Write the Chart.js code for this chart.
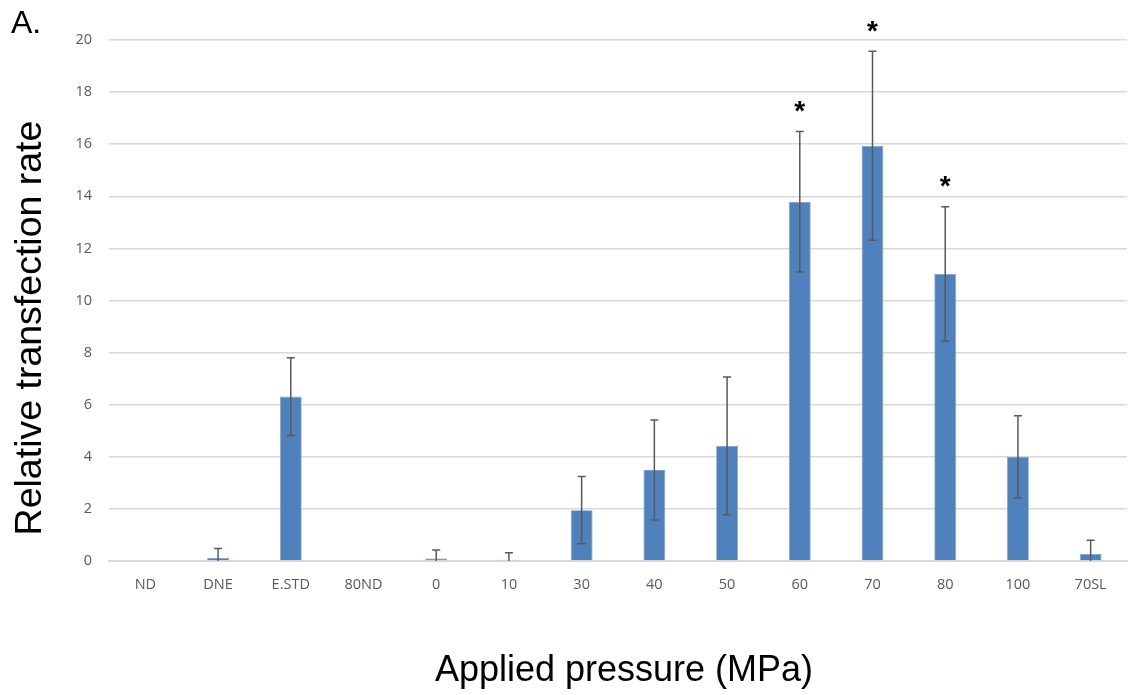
<!DOCTYPE html>
<html>
<head>
<meta charset="utf-8">
<script src="https://cdn.jsdelivr.net/npm/chart.js@4/dist/chart.umd.min.js"></script>
<style>
	html, body { margin: 0; padding: 0; background: #fff; }
	#wrap { width: 1136px; height: 695px; position: relative; }
</style>
</head>
<body>
<div id="wrap"><canvas id="myChart"></canvas></div>
<script>
// datos
var categorias = ["ND", "DNE", "E.STD", "80ND", "0", "10", "30", "40", "50", "60", "70", "80", "100", "70SL"];
var medias = [0, 0.12, 6.31, 0, 0.1, 0.05, 1.95, 3.49, 4.42, 13.79, 15.94, 11.02, 4.0, 0.27];
var desviacion = [null, 0.36, 1.49, null, 0.32, 0.27, 1.29, 1.92, 2.64, 2.7, 3.63, 2.58, 1.58, 0.53];
var significativo = [false, false, false, false, false, false, false, false, false, true, true, true, false, false];
var ticksY = [0, 2, 4, 6, 8, 10, 12, 14, 16, 18, 20];
var tituloX = 'Applied pressure (MPa)';
var tituloY = 'Relative transfection rate';

var gris = '#595959';

// barras de error, asteriscos y titulos
var errorBars = {
	id : 'errorBars',
	afterDatasetsDraw : function(chart) {
		var ctx = chart.ctx;
		var meta = chart.getDatasetMeta(0);
		var y = chart.scales.y;
		var area = chart.chartArea;
		ctx.save();
		ctx.beginPath();
		ctx.rect(area.left, area.top - 30, area.right - area.left, area.bottom - area.top + 30);
		ctx.clip();
		ctx.strokeStyle = gris;
		ctx.lineWidth = 1.5;
		for (var i = 0; i < medias.length; i++) {
			if (desviacion[i] == null) continue;
			var x = meta.data[i].x;
			var top = y.getPixelForValue(medias[i] + desviacion[i]);
			var bot = y.getPixelForValue(medias[i] - desviacion[i]);
			ctx.beginPath();
			ctx.moveTo(x, top); ctx.lineTo(x, bot);
			ctx.moveTo(x - 4, top); ctx.lineTo(x + 4, top);
			ctx.moveTo(x - 4, bot); ctx.lineTo(x + 4, bot);
			ctx.stroke();
		}
		ctx.restore();

		ctx.save();
		ctx.fillStyle = '#000';
		ctx.font = 'bold 28px "Liberation Sans", Arial, sans-serif';
		ctx.textAlign = 'center';
		ctx.textBaseline = 'middle';
		for (var i = 0; i < medias.length; i++) {
			if (!significativo[i]) continue;
			var x = meta.data[i].x;
			var top = y.getPixelForValue(medias[i] + desviacion[i]);
			ctx.fillText('*', x, top - 19);
		}
		// etiqueta del panel
		ctx.font = '32px "Liberation Sans", Arial, sans-serif';
		ctx.textAlign = 'left';
		ctx.textBaseline = 'alphabetic';
		ctx.fillText('A.', 11, 33);

		// titulos de ejes
		ctx.font = '36px "Liberation Sans", Arial, sans-serif';
		ctx.textAlign = 'center';
		ctx.fillText(tituloX, 624, 681);
		ctx.translate(41, 328);
		ctx.rotate(-Math.PI / 2);
		ctx.font = '37.5px "Liberation Sans", Arial, sans-serif';
		ctx.fillText(tituloY, 0, 0);
		ctx.restore();
	}
};

var ctx = document.getElementById('myChart').getContext('2d');
var chart = new Chart(ctx, {
	type : 'bar',
	data : {
		labels : categorias,
		datasets : [ {
			label : tituloY,
			data : medias,
			backgroundColor : '#4f81bd',
			borderColor : '#7a9fcf',
			borderWidth : 0.8,
			barPercentage : 0.6,
			categoryPercentage : 0.5
		} ]
	},
	plugins : [ errorBars ],
	options : {
		responsive : true,
		maintainAspectRatio : false,
		animation : false,
		layout : {
			padding : { left : 0, right : 9, top : 40, bottom : 0 }
		},
		plugins : {
			legend : { display : false },
			tooltip : { enabled : false }
		},
		scales : {
			x : {
				afterFit : function(scale) { scale.height = 134; },
				grid : { display : false, drawTicks : false },
				border : { display : true, color : '#d9d9d9', width : 2 },
				ticks : {
					color : gris,
					padding : 15,
					font : { family : '"Open Sans", "Noto Sans", sans-serif', size : 14.5 }
				}
			},
			y : {
				min : 0,
				max : 20,
				afterFit : function(scale) { scale.width = 109; },
				afterBuildTicks : function(scale) {
					scale.ticks = ticksY.map(function(v) { return { value : v }; });
				},
				grid : { color : '#d9d9d9', lineWidth : 1.5, drawTicks : false },
				border : { display : false },
				ticks : {
					color : gris,
					padding : 17,
					font : { family : '"Open Sans", "Noto Sans", sans-serif', size : 14.5 }
				}
			}
		}
	}
});
</script>
</body>
</html>
